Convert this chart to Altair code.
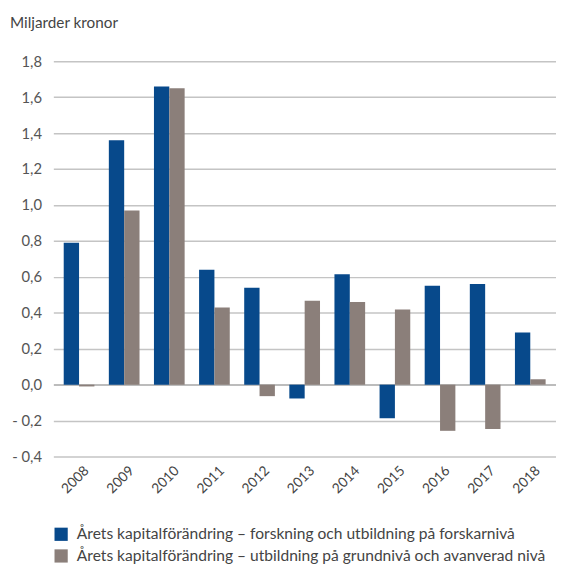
import altair as alt
import pandas as pd

years = ["2008", "2009", "2010", "2011", "2012", "2013", "2014", "2015", "2016", "2017", "2018"]
forskning = [0.79, 1.36, 1.66, 0.64, 0.54, -0.077, 0.615, -0.187, 0.55, 0.56, 0.29]
grundniva = [-0.01, 0.97, 1.65, 0.43, -0.064, 0.467, 0.46, 0.418, -0.257, -0.247, 0.03]
series_names = [
    "Årets kapitalförändring – forskning och utbildning på forskarnivå",
    "Årets kapitalförändring – utbildning på grundnivå och avanverad nivå",
]
colors = ["#07498B", "#8B7F7A"]
y_ticks = [-0.4, -0.2, 0.0, 0.2, 0.4, 0.6, 0.8, 1.0, 1.2, 1.4, 1.6, 1.8]

rows = []
for i, y in enumerate(years):
    rows.append({"year": y, "series": series_names[0], "value": forskning[i]})
    rows.append({"year": y, "series": series_names[1], "value": grundniva[i]})
df = pd.DataFrame(rows)

FONT = "Lato"

label_expr = (
    "datum.value < -0.001 ? '- ' + replace(format(abs(datum.value), '.1f'), '.', ',') "
    ": replace(format(abs(datum.value), '.1f'), '.', ',')"
)

chart = alt.Chart(df).mark_bar().encode(
    x=alt.X("year:N", sort=years,
            scale=alt.Scale(paddingInner=0.32, paddingOuter=0.23),
            axis=alt.Axis(title=None, labelAngle=-45, labelAlign="right", labelBaseline="middle",
                          labelPadding=12, ticks=False, domain=False, labelFontSize=14,
                          labelColor="#444444", labelFont=FONT, labelOffset=8)),
    xOffset=alt.XOffset("series:N", sort=series_names),
    y=alt.Y("value:Q", scale=alt.Scale(domain=[-0.4, 1.8], nice=False),
            axis=alt.Axis(title=None, values=y_ticks, labelExpr=label_expr, ticks=False,
                          domain=False, labelPadding=12, labelFontSize=15,
                          labelColor="#555555", labelFont=FONT, labelOverlap=False,
                          gridColor=alt.condition("abs(datum.value) < 0.001",
                                                  alt.value("#a6a6a6"), alt.value("#c4c4c4")),
                          gridWidth=1.5)),
    color=alt.Color("series:N", sort=series_names,
                    scale=alt.Scale(domain=series_names, range=colors),
                    legend=alt.Legend(title=None, orient="none", legendX=0, legendY=472,
                                      direction="vertical", symbolType="square",
                                      symbolSize=180, symbolStrokeWidth=0, symbolOpacity=1,
                                      labelFontSize=15.8, labelColor="#444444",
                                      labelFont=FONT, labelLimit=600, rowPadding=5,
                                      labelOffset=8)),
).properties(
    width=510,
    height=401,
    autosize=alt.AutoSizeParams(type="none"),
    padding={"left": 46, "top": 50, "right": 0, "bottom": 105},
    title=alt.TitleParams("Miljarder kronor", anchor="start", frame="group", dx=-44, offset=23,
                          fontSize=15.5, font=FONT, fontWeight="normal", color="#444444"),
).configure_view(stroke=None)

chart.save("out.html", embed_options={"renderer": "svg", "actions": False})
